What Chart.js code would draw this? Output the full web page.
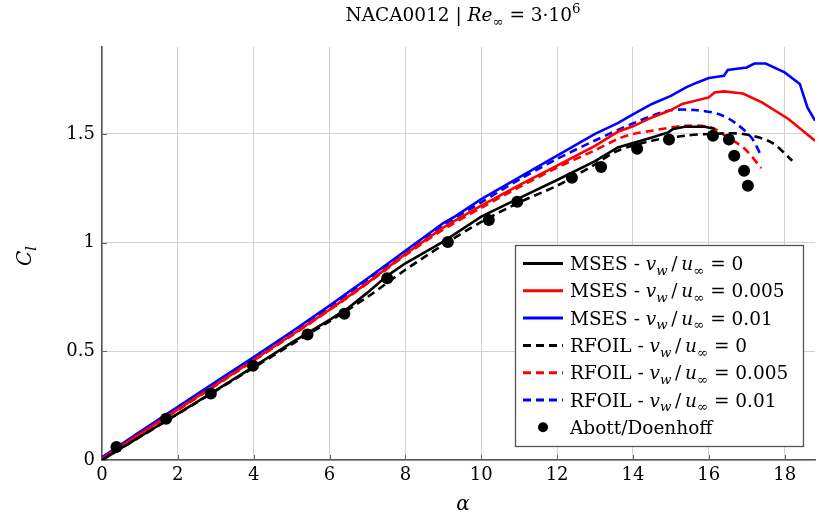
<!DOCTYPE html>
<html>
<head>
<meta charset="utf-8">
<script src="https://cdn.jsdelivr.net/npm/chart.js@4.4.1/dist/chart.umd.min.js"></script>
<style>
  html, body { margin: 0; padding: 0; background: #fff; }
  #wrap { width: 821px; height: 516px; position: relative; }
</style>
</head>
<body>
<div id="wrap"><canvas id="clChart"></canvas></div>
<script>
// Datos (alpha en grados, Cl)
const msesAlpha0 = [0, 1, 2, 3, 4, 5, 6, 6.5, 7, 7.5, 8, 9, 10, 11, 12, 13, 13.6, 14.5, 14.93, 15.06, 15.37, 15.9, 16.16];
const msesCl0    = [0, 0.107, 0.213, 0.32, 0.43, 0.54, 0.645, 0.70, 0.77, 0.845, 0.905, 1.005, 1.12, 1.205, 1.288, 1.375, 1.438, 1.484, 1.507, 1.523, 1.533, 1.533, 1.523];

const msesAlpha005 = [0, 1, 2, 3, 4, 5, 6, 7, 8, 9, 10, 11, 12, 13, 13.6, 14, 14.5, 15, 15.3, 16, 16.15, 16.4, 16.9, 17.4, 18.1, 18.8];
const msesCl005    = [0.006, 0.12, 0.233, 0.346, 0.46, 0.575, 0.692, 0.815, 0.948, 1.07, 1.17, 1.265, 1.354, 1.445, 1.51, 1.535, 1.576, 1.61, 1.638, 1.668, 1.691, 1.696, 1.686, 1.645, 1.569, 1.469];

const msesAlpha01 = [0, 1, 2, 3, 4, 5, 6, 7, 8, 9, 9.3, 10, 11, 12, 13, 13.6, 14, 14.5, 15, 15.4, 15.7, 16, 16.4, 16.5, 17, 17.2, 17.5, 18, 18.4, 18.6, 18.8];
const msesCl01    = [0.012, 0.13, 0.245, 0.36, 0.473, 0.59, 0.71, 0.835, 0.963, 1.09, 1.12, 1.20, 1.30, 1.40, 1.50, 1.55, 1.59, 1.638, 1.675, 1.714, 1.737, 1.757, 1.768, 1.794, 1.806, 1.824, 1.824, 1.783, 1.73, 1.622, 1.561];

const rfoilAlpha0 = [0, 1, 2, 3, 4, 5, 6, 7, 8, 9, 10, 11, 12, 13, 13.6, 14.5, 15.4, 16, 16.9, 17.65, 18.2];
const rfoilCl0    = [0, 0.106, 0.212, 0.318, 0.425, 0.532, 0.638, 0.75, 0.875, 0.99, 1.095, 1.185, 1.262, 1.36, 1.423, 1.469, 1.492, 1.50, 1.50, 1.461, 1.377];

const rfoilAlpha005 = [0, 1, 2, 3, 4, 5, 6, 7, 8, 9, 10, 11, 12, 13, 13.6, 14, 14.5, 15.4, 16.07, 16.5, 16.95, 17.38];
const rfoilCl005    = [0.005, 0.118, 0.23, 0.343, 0.457, 0.572, 0.69, 0.812, 0.942, 1.06, 1.16, 1.255, 1.345, 1.425, 1.477, 1.50, 1.515, 1.538, 1.530, 1.484, 1.431, 1.343];

const rfoilAlpha01 = [0, 1, 2, 3, 4, 5, 6, 7, 8, 9, 10, 11, 12, 13, 14.06, 14.93, 15.63, 16.25, 16.68, 17.12, 17.38];
const rfoilCl01    = [0.01, 0.128, 0.243, 0.357, 0.47, 0.587, 0.705, 0.83, 0.958, 1.08, 1.185, 1.29, 1.385, 1.47, 1.553, 1.607, 1.610, 1.592, 1.553, 1.484, 1.40];

const abottAlpha = [0.38, 1.69, 2.87, 3.98, 5.42, 6.39, 7.52, 9.12, 10.2, 10.95, 12.39, 13.16, 14.11, 14.95, 16.11, 16.53, 16.67, 16.93, 17.03];
const abottCl    = [0.06, 0.19, 0.306, 0.434, 0.577, 0.673, 0.836, 1.003, 1.104, 1.188, 1.298, 1.348, 1.432, 1.474, 1.492, 1.474, 1.40, 1.331, 1.262];

const xTicks = [0, 2, 4, 6, 8, 10, 12, 14, 16, 18];
const yTicks = [0, 0.5, 1, 1.5];

const FONT = '"DejaVu Serif", serif';

function toPoints(xs, ys) {
  return xs.map((x, i) => ({ x: x, y: ys[i] }));
}

// Texto con cursiva, subíndices y superíndices
function richWidth(ctx, runs, size) {
  let w = 0;
  runs.forEach(r => {
    const s = (r.sub || r.sup) ? size * 0.72 : size;
    ctx.font = (r.it ? 'italic ' : '') + s + 'px ' + FONT;
    w += ctx.measureText(r.t).width;
  });
  return w;
}

function drawRich(ctx, runs, x, y, size, align) {
  let cx = align === 'center' ? x - richWidth(ctx, runs, size) / 2 : x;
  ctx.textAlign = 'left';
  ctx.textBaseline = 'alphabetic';
  runs.forEach(r => {
    const s = (r.sub || r.sup) ? size * 0.72 : size;
    ctx.font = (r.it ? 'italic ' : '') + s + 'px ' + FONT;
    const dy = r.sub ? size * 0.25 : (r.sup ? -size * 0.42 : 0);
    ctx.fillText(r.t, cx, y + dy);
    cx += ctx.measureText(r.t).width;
  });
}

function vwLabel(code, value) {
  return [
    { t: code + ' - ' }, { t: 'v', it: true }, { t: 'w', it: true, sub: true },
    { t: '\u2009/\u2009' }, { t: 'u', it: true }, { t: '\u221E', sub: true },
    { t: ' = ' + value }
  ];
}

const legendRows = [
  { runs: vwLabel('MSES', '0'), color: '#000', dash: [] },
  { runs: vwLabel('MSES', '0.005'), color: '#ff0000', dash: [] },
  { runs: vwLabel('MSES', '0.01'), color: '#0000ff', dash: [] },
  { runs: vwLabel('RFOIL', '0'), color: '#000', dash: [8, 5] },
  { runs: vwLabel('RFOIL', '0.005'), color: '#ff0000', dash: [8, 5] },
  { runs: vwLabel('RFOIL', '0.01'), color: '#0000ff', dash: [8, 5] },
  { runs: [{ t: 'Abott/Doenhoff' }], color: '#000', dot: true }
];

const decorPlugin = {
  id: 'decor',
  beforeDatasetsDraw(chart) {
    const { ctx, chartArea, scales } = chart;
    ctx.save();
    ctx.strokeStyle = '#666';
    ctx.lineWidth = 1;
    xTicks.forEach(v => {
      const px = Math.round(scales.x.getPixelForValue(v)) + 0.5;
      ctx.beginPath();
      ctx.moveTo(px, chartArea.bottom);
      ctx.lineTo(px, chartArea.bottom - 5);
      ctx.stroke();
    });
    yTicks.forEach(v => {
      const py = Math.round(scales.y.getPixelForValue(v)) + 0.5;
      ctx.beginPath();
      ctx.moveTo(chartArea.left, py);
      ctx.lineTo(chartArea.left + 5, py);
      ctx.stroke();
    });
    ctx.restore();
  },
  afterDraw(chart) {
    const { ctx } = chart;
    ctx.save();
    ctx.fillStyle = '#000';
    // título
    drawRich(ctx, [
      { t: 'NACA0012 | ' }, { t: 'Re', it: true }, { t: '\u221E', sub: true },
      { t: ' = 3\u00B710' }, { t: '6', sup: true }
    ], 463, 21, 18.5, 'center');
    // eje x
    drawRich(ctx, [{ t: '\u03B1', it: true }], 463, 510, 20, 'center');
    // eje y
    ctx.save();
    ctx.translate(31, 256);
    ctx.rotate(-Math.PI / 2);
    drawRich(ctx, [{ t: 'C', it: true }, { t: 'l', it: true, sub: true }], 0, 0, 20, 'center');
    ctx.restore();

    // leyenda
    const bx = 515.5, by = 245.5, bw = 288, bh = 201;
    ctx.fillStyle = '#fff';
    ctx.fillRect(bx, by, bw, bh);
    ctx.strokeStyle = '#555';
    ctx.lineWidth = 1.3;
    ctx.strokeRect(bx, by, bw, bh);
    legendRows.forEach((row, i) => {
      const cy = 263.5 + i * 27.3;
      if (row.dot) {
        ctx.fillStyle = '#000';
        ctx.beginPath();
        ctx.arc(543, cy, 5, 0, Math.PI * 2);
        ctx.fill();
      } else {
        ctx.strokeStyle = row.color;
        ctx.lineWidth = 3;
        ctx.setLineDash(row.dash);
        ctx.beginPath();
        ctx.moveTo(523, cy);
        ctx.lineTo(563, cy);
        ctx.stroke();
        ctx.setLineDash([]);
      }
      ctx.fillStyle = '#000';
      drawRich(ctx, row.runs, 570, cy + 6.5, 18.5, 'left');
    });
    ctx.restore();
  }
};

function lineSet(label, xs, ys, color, dashed, order) {
  return {
    label: label,
    data: toPoints(xs, ys),
    showLine: true,
    borderColor: color,
    backgroundColor: color,
    borderWidth: 2.6,
    borderDash: dashed ? [8, 5] : [],
    pointRadius: 0,
    tension: dashed ? 0.3 : 0,
    order: order
  };
}

document.addEventListener('DOMContentLoaded', () => {
  new Chart(document.getElementById('clChart'), {
    type: 'scatter',
    data: {
      datasets: [
        lineSet('MSES 0', msesAlpha0, msesCl0, '#000000', false, 2),
        lineSet('MSES 0.005', msesAlpha005, msesCl005, '#ff0000', false, 3),
        lineSet('MSES 0.01', msesAlpha01, msesCl01, '#0000ff', false, 4),
        lineSet('RFOIL 0', rfoilAlpha0, rfoilCl0, '#000000', true, 5),
        lineSet('RFOIL 0.005', rfoilAlpha005, rfoilCl005, '#ff0000', true, 6),
        lineSet('RFOIL 0.01', rfoilAlpha01, rfoilCl01, '#0000ff', true, 7),
        {
          label: 'Abott/Doenhoff',
          data: toPoints(abottAlpha, abottCl),
          showLine: false,
          pointRadius: 6,
          pointBackgroundColor: '#000',
          pointBorderWidth: 0,
          order: 1
        }
      ]
    },
    options: {
      responsive: true,
      maintainAspectRatio: false,
      animation: false,
      layout: { padding: { left: 0, right: 3, top: 47, bottom: 0 } },
      plugins: {
        legend: { display: false },
        tooltip: { enabled: false }
      },
      scales: {
        x: {
          type: 'linear',
          min: 0,
          max: 18.8,
          afterBuildTicks: s => { s.ticks = xTicks.map(v => ({ value: v })); },
          afterFit: s => { s.height = 56; },
          grid: { color: '#d2d2d2', lineWidth: 1, drawTicks: false },
          border: { color: '#555', width: 1.5 },
          ticks: {
            color: '#000',
            padding: 5,
            font: { family: FONT, size: 18 },
            callback: v => String(v)
          }
        },
        y: {
          type: 'linear',
          min: 0,
          max: 1.9,
          afterBuildTicks: s => { s.ticks = yTicks.map(v => ({ value: v })); },
          afterFit: s => { s.width = 102; },
          grid: { color: '#d2d2d2', lineWidth: 1, drawTicks: false },
          border: { color: '#555', width: 1.5 },
          ticks: {
            color: '#000',
            padding: 7,
            font: { family: FONT, size: 18 },
            callback: v => String(v)
          }
        }
      }
    },
    plugins: [decorPlugin]
  });
});
</script>
</body>
</html>
